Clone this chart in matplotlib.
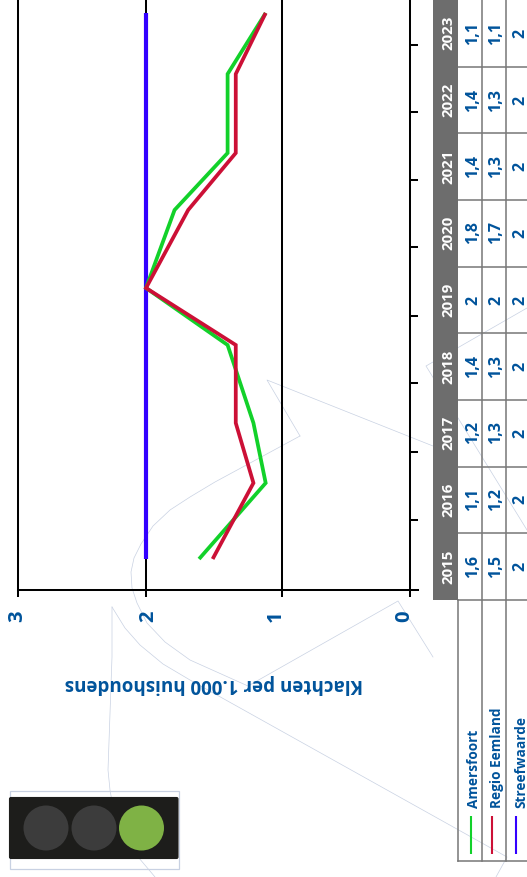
import numpy as np
import matplotlib
matplotlib.use('Agg')
import matplotlib.pyplot as plt
from matplotlib.patches import Rectangle, Circle, FancyBboxPatch

plt.rcParams['font.family'] = ['Open Sans', 'DejaVu Sans']

W, H = 527, 877
BLUE_TEXT = '#00539b'
WATERMARK = '#c8d1e2'
GRID_GREY = '#777777'

years = [2015, 2016, 2017, 2018, 2019, 2020, 2021, 2022, 2023]
amersfoort = [1.61, 1.12, 1.21, 1.40, 2.0, 1.79, 1.40, 1.40, 1.12]
regio = [1.51, 1.21, 1.34, 1.34, 2.0, 1.69, 1.34, 1.34, 1.12]
streef = [2, 2, 2, 2, 2, 2, 2, 2, 2]

amersfoort_labels = ['1,6', '1,1', '1,2', '1,4', '2', '1,8', '1,4', '1,4', '1,1']
regio_labels = ['1,5', '1,2', '1,3', '1,3', '2', '1,7', '1,3', '1,3', '1,1']
streef_labels = ['2'] * 9
series_names = ['Amersfoort', 'Regio Eemland', 'Streefwaarde']
series_colors = ['#12d12a', '#cc1036', '#3300ff']
value_ticks = [0, 1, 2, 3]
axis_title = 'Klachten per 1.000 huishoudens'

# the source picture is not evenly spaced, so both axes get a piecewise scale
val_knots = [-1, 0, 1, 2, 3, 4]
val_px = [-128, 0, 128, 264, 392, 520]
year_knots = [2014, 2014.5, 2015, 2015.5, 2016, 2016.5, 2017, 2017.5, 2018, 2018.5,
              2019, 2019.5, 2020, 2020.5, 2021, 2021.5, 2022, 2022.5, 2023, 2023.5]
year_px = [650, 590, 559, 520, 483, 452, 423, 383, 345, 316,
           288, 247, 210, 180, 153, 112, 74, 45, 13, -20]
year_dist = [-p for p in year_px]
# tick labels sit a few px off their ticks in the source
tick_label_shift = [-6, -6, 2, -1]


def val_fwd(v):
    return np.interp(v, val_knots, val_px)

def val_inv(p):
    return np.interp(p, val_px, val_knots)

def year_fwd(y):
    return np.interp(y, year_knots, year_dist)

def year_inv(p):
    return np.interp(p, year_dist, year_knots)


# faint logo lines behind everything
watermark = [
    [(300, 436), (267, 380), (433, 446)],
    [(300, 436), (215, 482), (190, 497), (170, 510), (153, 526), (141, 544), (134, 558), (131, 572),
     (132, 588), (137, 603), (147, 623), (165, 642), (190, 660), (248, 686), (398, 601), (433, 657)],
    [(112, 607), (125, 628), (140, 645), (163, 664), (190, 680), (310, 747), (507, 857), (496, 877)],
    [(112, 607), (112, 657), (108, 770), (110, 790), (113, 807), (128, 845), (155, 877)],
    [(527, 308), (426, 366), (527, 530)],
]

fig = plt.figure(figsize=(W / 100, H / 100), dpi=100)

page = fig.add_axes([0, 0, 1, 1], zorder=1)
page.set_xlim(0, W)
page.set_ylim(H, 0)
page.axis('off')

for line in watermark:
    xs, ys = zip(*line)
    page.plot(xs, ys, color=WATERMARK, lw=0.5, zorder=1)

# table
page.add_patch(Rectangle((433, 0), 25, 600, color='#6d6d6d', lw=0, zorder=3))
cell_edges = [66.5, 133, 200, 266.5, 333, 400, 466.5, 533, 600]
for y in cell_edges:
    page.plot([458, W], [y, y], color=GRID_GREY, lw=1.1, zorder=2)
page.plot([457.5, W], [861, 861], color=GRID_GREY, lw=1.1, zorder=2)
page.plot([457.5, 457.5], [600, 861], color=GRID_GREY, lw=1.1, zorder=2)
for x in [481.7, 506]:
    page.plot([x, x], [0, 861], color=GRID_GREY, lw=1.1, zorder=2)

cell_centers = [566.5, 499.5, 433, 366.5, 300, 233, 166.5, 100, 33]
for i, year in enumerate(years):
    yc = cell_centers[i]
    page.text(448.5, yc, str(year), color='white', fontsize=10.8, fontweight='bold',
              rotation=90, ha='center', va='center', zorder=4)
    for x, labels in zip([473, 496.5, 520.5], [amersfoort_labels, regio_labels, streef_labels]):
        page.text(x, yc, labels[i], color=BLUE_TEXT, fontsize=11.5, fontweight='bold',
                  rotation=90, ha='center', va='center', zorder=4)

# legend part of the table
for name, color, xt, xk in zip(series_names, series_colors, [473.5, 497, 521], [471, 491.7, 516]):
    page.text(xt, 808, name, color=BLUE_TEXT, fontsize=9.8, fontweight='bold',
              rotation=90, ha='center', va='bottom', zorder=4)
    page.plot([xk, xk], [816, 854], color=color, lw=1.5, solid_capstyle='butt', zorder=4)

# traffic light
page.add_patch(Rectangle((9.5, 791), 169, 78, fill=False, ec=WATERMARK, lw=0.9, zorder=2))
page.add_patch(FancyBboxPatch((9.5, 797.5), 168.5, 61, boxstyle='round,pad=0,rounding_size=1.5',
                              fc='#1d1d1b', ec='#1d1d1b', lw=0.8, zorder=3))
for cx, color in zip([46, 94, 141.5], ['#3c3c3c', '#3c3c3c', '#7fb245']):
    page.add_patch(Circle((cx, 828), 22.5, color=color, lw=0, zorder=4))

# main chart
ax = fig.add_axes([18 / W, 1 - 590 / H, 400 / W, 590 / H], zorder=2)
ax.patch.set_visible(False)
ax.set_xscale('function', functions=(val_fwd, val_inv))
ax.set_yscale('function', functions=(year_fwd, year_inv))

ax.plot(streef, years, color=series_colors[2], lw=3.0, solid_capstyle='butt', solid_joinstyle='miter', zorder=3)
ax.plot(amersfoort, years, color=series_colors[0], lw=2.7, solid_capstyle='butt', solid_joinstyle='miter', zorder=4)
ax.plot(regio, years, color=series_colors[1], lw=2.7, solid_capstyle='butt', solid_joinstyle='miter', zorder=5)

ax.set_xlim(3, -0.0625)
ax.set_ylim(2014.5, year_inv(0))
ax.set_xticks(value_ticks)
ax.set_yticks([y + 0.5 for y in years[:-1]])
ax.grid(axis='x', color='black', lw=1.45)
ax.set_axisbelow(True)

for side in ['top', 'right']:
    ax.spines[side].set_visible(False)
for side in ['left', 'bottom']:
    ax.spines[side].set_linewidth(1.45)

ax.yaxis.tick_right()
ax.tick_params(axis='y', direction='in', length=5.2, width=1.45, labelright=False)
ax.tick_params(axis='x', direction='out', length=5.2, width=1.45, labelbottom=False)
for v, dx in zip(value_ticks, tick_label_shift):
    ax.annotate(str(v), xy=(v, 0), xycoords=ax.get_xaxis_transform(),
                xytext=(dx * 0.72, -26 * 0.72), textcoords='offset points',
                rotation=90, ha='center', va='center', fontsize=14.5,
                fontweight='bold', color=BLUE_TEXT)

ax.set_xlabel(axis_title, rotation=180, color=BLUE_TEXT, fontsize=13.5, fontweight='bold', va='center', ha='center')
ax.xaxis.set_label_coords(0.49, -94 / 590)

fig.savefig('out.png', dpi=100)
